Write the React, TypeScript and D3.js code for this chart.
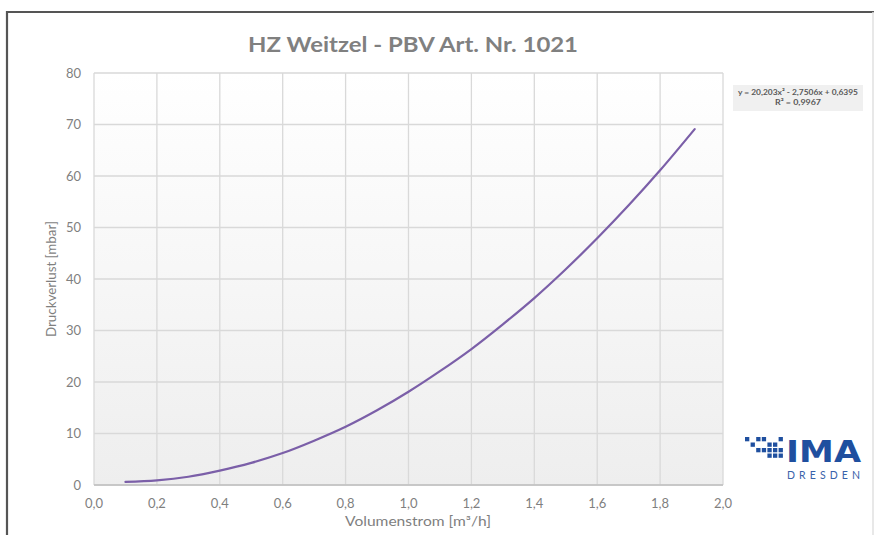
import React from 'react';
import * as d3 from 'd3';

// Volumenstrom [m³/h] and Druckverlust [mbar]
const flow = [0.1, 0.2, 0.3, 0.4, 0.5, 0.6, 0.7, 0.8, 0.9, 1.0, 1.1, 1.2, 1.3, 1.4, 1.5, 1.6, 1.7, 1.8, 1.91];
const pressure = [0.6, 0.9, 1.6, 2.8, 4.3, 6.2, 8.6, 11.3, 14.5, 18.1, 22.1, 26.4, 31.2, 36.3, 41.9, 47.9, 54.3, 61.1, 69.1];

const xTicks = [0, 0.2, 0.4, 0.6, 0.8, 1.0, 1.2, 1.4, 1.6, 1.8, 2.0];
const yTicks = [0, 10, 20, 30, 40, 50, 60, 70, 80];

const title = 'HZ Weitzel - PBV Art. Nr. 1021';
const xTitle = 'Volumenstrom [m³/h]';
const yTitle = 'Druckverlust [mbar]';
const trendLines = ['y = 20,203x² - 2,7506x + 0,6395', 'R² = 0,9967'];

// logo dot grid (col, row)
const logoDots = [
  [0, 0], [2, 0], [3, 0], [6, 0],
  [1, 1], [4, 1], [5, 1],
  [2, 2], [3, 2], [4, 2], [5, 2], [6, 2],
  [4, 3], [5, 3], [6, 3],
];

const W = 875;
const H = 535;
const font = 'Lato, "Open Sans", sans-serif';
const fmt = (v: number) => v.toFixed(1).replace('.', ',');

export default function App() {
  const margin = { left: 94, right: 723, top: 73, bottom: 485 };
  const x = d3.scaleLinear().domain([0, 2]).range([margin.left, margin.right]);
  const y = d3.scaleLinear().domain([0, 80]).range([margin.bottom, margin.top]);

  const points: [number, number][] = flow.map((f, i) => [f, pressure[i]]);
  const line = d3
    .line<[number, number]>()
    .x((d) => x(d[0]))
    .y((d) => y(d[1]))
    .curve(d3.curveCatmullRom.alpha(0.5));

  return (
    <svg width={W} height={H} style={{ position: 'absolute', left: 0, top: 0, background: '#fff' }}>
      <defs>
        <linearGradient id="plotBg" x1="0" y1="0" x2="0" y2="1">
          <stop offset="0" stopColor="#ffffff" />
          <stop offset="1" stopColor="#eeeeee" />
        </linearGradient>
      </defs>

      {/* outer frame */}
      <line x1={7} y1={12} x2={874} y2={12} stroke="#555" strokeWidth={2.2} />
      <line x1={7} y1={11} x2={7} y2={H} stroke="#555" strokeWidth={2.2} />
      <line x1={873} y1={12} x2={873} y2={H} stroke="#e0e0e0" strokeWidth={1.5} />

      <text
        x={413}
        y={52}
        textAnchor="middle"
        fontFamily={font}
        fontWeight={700}
        fontSize={21}
        fill="#808080"
        textLength={330}
        lengthAdjust="spacingAndGlyphs"
      >
        {title}
      </text>

      <rect
        x={margin.left}
        y={margin.top}
        width={margin.right - margin.left}
        height={margin.bottom - margin.top}
        fill="url(#plotBg)"
      />

      {/* grid */}
      {xTicks.map((t) => (
        <line key={'gx' + t} x1={x(t)} x2={x(t)} y1={margin.top} y2={margin.bottom} stroke="#d9d9d9" strokeWidth={1.3} />
      ))}
      {yTicks.map((t) => (
        <line key={'gy' + t} x1={margin.left} x2={margin.right} y1={y(t)} y2={y(t)} stroke="#d9d9d9" strokeWidth={1.3} />
      ))}
      <line x1={margin.left} x2={margin.right} y1={y(0)} y2={y(0)} stroke="#bfbfbf" strokeWidth={1.5} />

      {/* tick labels */}
      {yTicks.map((t) => (
        <text key={'ty' + t} x={81} y={y(t) + 4.5} textAnchor="end" fontFamily={font} fontSize={13} fill="#7f7f7f">
          {t}
        </text>
      ))}
      {xTicks.map((t) => (
        <text key={'tx' + t} x={x(t)} y={508} textAnchor="middle" fontFamily={font} fontSize={13} fill="#7f7f7f">
          {fmt(t)}
        </text>
      ))}

      <text
        x={418}
        y={526}
        textAnchor="middle"
        fontFamily={font}
        fontSize={12.5}
        fill="#7f7f7f"
        textLength={146}
        lengthAdjust="spacingAndGlyphs"
      >
        {xTitle}
      </text>
      <text
        transform={`translate(56,279) rotate(-90)`}
        textAnchor="middle"
        fontFamily={font}
        fontSize={12.5}
        fill="#7f7f7f"
        textLength={116}
        lengthAdjust="spacingAndGlyphs"
      >
        {yTitle}
      </text>

      <path d={line(points) || ''} fill="none" stroke="#7b5fa8" strokeWidth={2.2} strokeLinecap="round" />

      {/* trendline label */}
      <rect x={733} y={85} width={130} height={26} fill="#f0f0f0" />
      {trendLines.map((s, i) => (
        <text
          key={s}
          x={798}
          y={95 + i * 10}
          textAnchor="middle"
          fontFamily={font}
          fontSize={8}
          fontWeight={700}
          fill="#595959"
          textLength={i === 0 ? 120 : 46}
          lengthAdjust="spacingAndGlyphs"
        >
          {s}
        </text>
      ))}

      {/* logo */}
      <g fill="#1f4f9f">
        {logoDots.map(([c, r]) => (
          <rect key={c + '-' + r} x={745 + c * 5.6} y={437 + r * 5.5} width={4.3} height={4.3} />
        ))}
        <text x={786} y={462} fontFamily='"DejaVu Sans", sans-serif' fontWeight={700} fontSize={31} textLength={75} lengthAdjust="spacingAndGlyphs">
          IMA
        </text>
        <text x={787} y={479} fontFamily={font} fontSize={10.5} fill="#3a62aa" textLength={73} lengthAdjust="spacing">
          DRESDEN
        </text>
      </g>
    </svg>
  );
}
